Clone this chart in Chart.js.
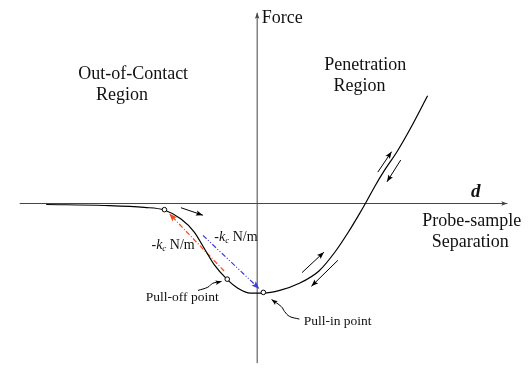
<!DOCTYPE html>
<html lang="en">
<head>
<meta charset="UTF-8">
<script src="https://cdn.jsdelivr.net/npm/chart.js@4.4.0/dist/chart.umd.min.js"></script>
<title>Force vs separation</title>
<style>
  body { margin: 0; background: #fff; }
  #box { position: relative; width: 531px; height: 373px; }
</style>
</head>
<body>
<div id="box"><canvas id="myChart"></canvas></div>
<script>
// force curve (arbitrary units, origin at the axes crossing)
var separation = [-2.15, -1.56, -1.15, -0.946, -0.776, -0.641, -0.54, -0.438, -0.309, -0.201, -0.066, 0.063, 0.23, 0.43, 0.63, 0.797, 0.93, 1.03, 1.103, 1.197, 1.297, 1.43, 1.563, 1.737];
var force = [-0.01, -0.02, -0.04, -0.067, -0.16, -0.293, -0.46, -0.627, -0.777, -0.867, -0.92, -0.92, -0.893, -0.82, -0.693, -0.493, -0.293, -0.127, 0, 0.173, 0.34, 0.54, 0.773, 1.107];

// marked points: start of jump, pull-off, pull-in
var pointsX = [-0.945, -0.305, 0.063];
var pointsY = [-0.063, -0.777, -0.913];

// axes
var axisXs = [-2.42, 2.55];
var axisYs = [-1.64, 1.96];

// slope lines (-kc)
var redLineX = [-0.337, -0.897];
var redLineY = [-0.693, -0.103];
var blueLineX = [-0.553, 0.023];
var blueLineY = [-0.327, -0.877];

// small direction arrows (each a list of [x, y])
var dirArrows = [
    [[-0.777, -0.043], [-0.553, -0.12]],
    [[0.457, -0.71], [0.68, -0.50]],
    [[0.823, -0.583], [0.553, -0.85]],
    [[1.23, 0.323], [1.37, 0.533]],
    [[1.463, 0.447], [1.323, 0.223]]
];
// curved pointers to pull-off / pull-in labels
var pullOffPointer = [[-0.603, -0.893], [-0.503, -0.86], [-0.453, -0.82], [-0.363, -0.80]];
var pullInPointer = [[0.43, -1.187], [0.33, -1.16], [0.28, -1.11], [0.247, -1.06], [0.147, -0.987]];

function zip(xs, ys) {
    var out = [];
    for (var i = 0; i < xs.length; i++) out.push({ x: xs[i], y: ys[i] });
    return out;
}
function pairs(list) {
    return list.map(function (p) { return { x: p[0], y: p[1] }; });
}

var datasets = [];
datasets.push({
    data: zip(pointsX, pointsY),
    showLine: false,
    pointRadius: 2.3,
    pointBorderWidth: 1,
    pointBackgroundColor: '#fff',
    pointBorderColor: '#000'
});
datasets.push({
    data: zip(separation, force),
    borderColor: '#000',
    borderWidth: 1.2,
    cubicInterpolationMode: 'monotone',
    pointRadius: 0
});
datasets.push({
    data: zip(redLineX, redLineY),
    borderColor: '#f24a1c',
    borderWidth: 1.2,
    borderDash: [5, 2, 1, 2],
    pointRadius: 0,
    arrowHead: 8
});
datasets.push({
    data: zip(blueLineX, blueLineY),
    borderColor: '#3c3cdc',
    borderWidth: 1.2,
    borderDash: [5, 2, 1, 2, 1, 2],
    pointRadius: 0,
    arrowHead: 8
});
datasets.push({
    data: [{ x: axisXs[0], y: 0 }, { x: axisXs[1], y: 0 }],
    borderColor: '#444',
    borderWidth: 1,
    pointRadius: 0,
    arrowHead: 6
});
datasets.push({
    data: [{ x: 0, y: axisYs[0] }, { x: 0, y: axisYs[1] }],
    borderColor: '#444',
    borderWidth: 1,
    pointRadius: 0,
    arrowHead: 6
});
dirArrows.forEach(function (a) {
    datasets.push({ data: pairs(a), borderColor: '#000', borderWidth: 1, pointRadius: 0, arrowHead: 7 });
});
datasets.push({ data: pairs(pullOffPointer), borderColor: '#000', borderWidth: 1, pointRadius: 0, tension: 0.4, arrowHead: 6 });
datasets.push({ data: pairs(pullInPointer), borderColor: '#000', borderWidth: 1, pointRadius: 0, tension: 0.4, arrowHead: 6 });

// arrow heads at the end of lines that ask for one
var arrowPlugin = {
    id: 'arrows',
    afterDatasetsDraw: function (chart) {
        var ctx = chart.ctx;
        chart.data.datasets.forEach(function (ds, i) {
            if (!ds.arrowHead) return;
            var pts = chart.getDatasetMeta(i).data;
            var a = pts[pts.length - 2], b = pts[pts.length - 1];
            var ang = Math.atan2(b.y - a.y, b.x - a.x);
            var L = ds.arrowHead, W = L * 0.38;
            ctx.save();
            ctx.translate(b.x, b.y);
            ctx.rotate(ang);
            ctx.fillStyle = ds.borderColor;
            ctx.beginPath();
            ctx.moveTo(0, 0);
            ctx.lineTo(-L, -W);
            ctx.lineTo(-L * 0.8, 0);
            ctx.lineTo(-L, W);
            ctx.closePath();
            ctx.fill();
            ctx.restore();
        });
    }
};

// text notes placed in data units
var notes = [
    { t: 'Force', x: 0.047, y: 1.907, align: 'left', font: '18px "Liberation Serif"' },
    { t: 'Out-of-Contact', x: -1.264, y: 1.33, align: 'center', font: '18px "Liberation Serif"' },
    { t: 'Region', x: -1.377, y: 1.117, align: 'center', font: '18px "Liberation Serif"' },
    { t: 'Penetration', x: 1.102, y: 1.417, align: 'center', font: '18px "Liberation Serif"' },
    { t: 'Region', x: 1.043, y: 1.207, align: 'center', font: '18px "Liberation Serif"' },
    { t: 'Probe-sample', x: 2.188, y: -0.183, align: 'center', font: '18px "Liberation Serif"' },
    { t: 'Separation', x: 2.171, y: -0.403, align: 'center', font: '18px "Liberation Serif"' },
    { t: 'd', x: 2.227, y: 0.115, align: 'center', font: 'italic bold 19px "Liberation Serif"' },
    { t: 'Pull-off point', x: -0.764, y: -0.967, align: 'center', font: '13.5px "Liberation Serif"' },
    { t: 'Pull-in point', x: 0.82, y: -1.21, align: 'center', font: '13.5px "Liberation Serif"' }
];
var kcLabels = [{ x: -0.437, y: -0.343 }, { x: -1.077, y: -0.427 }];

var textPlugin = {
    id: 'notes',
    afterDraw: function (chart) {
        var ctx = chart.ctx, sx = chart.scales.x, sy = chart.scales.y;
        ctx.save();
        ctx.fillStyle = '#111';
        ctx.textBaseline = 'middle';
        notes.forEach(function (n) {
            ctx.font = n.font;
            ctx.textAlign = n.align;
            ctx.fillText(n.t, sx.getPixelForValue(n.x), sy.getPixelForValue(n.y));
        });
        ctx.textAlign = 'left';
        kcLabels.forEach(function (k) {
            var px = sx.getPixelForValue(k.x), py = sy.getPixelForValue(k.y);
            var parts = [
                { s: '-', f: '14px "Liberation Serif"', dy: 0 },
                { s: 'k', f: 'italic 14px "Liberation Serif"', dy: 0 },
                { s: 'c', f: 'italic 9px "Liberation Serif"', dy: 4 },
                { s: ' N/m', f: '14px "Liberation Serif"', dy: 0 }
            ];
            parts.forEach(function (p) {
                ctx.font = p.f;
                ctx.fillText(p.s, px, py + p.dy);
                px += ctx.measureText(p.s).width;
            });
        });
        ctx.restore();
    }
};

new Chart(document.getElementById('myChart'), {
    type: 'scatter',
    data: { datasets: datasets },
    options: {
        responsive: true,
        maintainAspectRatio: false,
        animation: false,
        events: [],
        layout: { padding: 0 },
        plugins: { legend: { display: false }, tooltip: { enabled: false } },
        elements: { line: { fill: false } },
        datasets: { scatter: { showLine: true } },
        scales: {
            x: { type: 'linear', min: -2.57, max: 2.74, display: false },
            y: { type: 'linear', min: -1.69, max: 2.04, display: false }
        }
    },
    plugins: [arrowPlugin, textPlugin]
});
</script>
</body>
</html>
